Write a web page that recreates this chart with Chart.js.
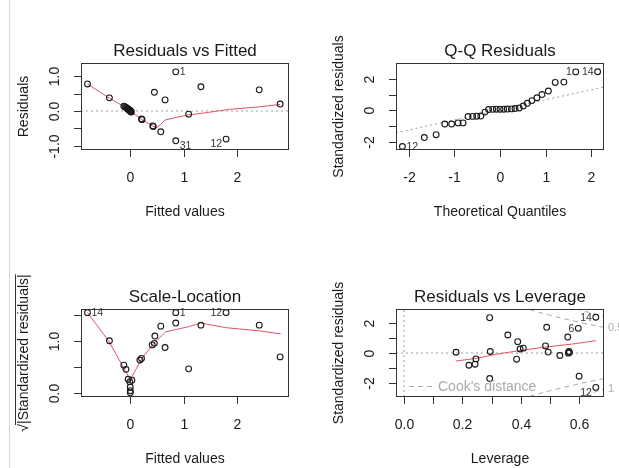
<!DOCTYPE html>
<html>
<head>
<meta charset="utf-8">
<script src="https://cdn.jsdelivr.net/npm/chart.js@4.4.0/dist/chart.umd.min.js"></script>
<style>
html, body { margin: 0; padding: 0; background: #fff; }
#wrap { position: relative; width: 619px; height: 468px; overflow: hidden; background: #fff; }
#wrap canvas { position: absolute; left: 0; top: 0; }
#edge { position: absolute; left: 9px; top: 0; width: 1px; height: 468px; background: #d6d6d6; }
</style>
</head>
<body>
<div id="wrap">
  <div id="edge"></div>
  <canvas id="rvf" width="619" height="468"></canvas>
  <canvas id="qq" width="619" height="468"></canvas>
  <canvas id="sl" width="619" height="468"></canvas>
  <canvas id="rvl" width="619" height="468"></canvas>
</div>
<script>
// Residuals vs Fitted
var rvfX = [-0.80,-0.39,-0.12,-0.10,-0.08,-0.06,-0.05,-0.04,-0.03,-0.02,-0.01,0.00,0.00,0.01,0.01,0.02,0.00,0.21,0.22,0.42,0.43,0.45,0.57,0.65,0.85,0.85,1.09,1.32,1.79,2.41,2.80];
var rvfY = [0.78,0.38,0.14,0.12,0.10,0.08,0.06,0.05,0.04,0.03,0.02,0.01,0.00,-0.01,-0.02,-0.03,-0.01,-0.23,-0.25,-0.43,-0.45,0.54,-0.60,0.32,1.13,-0.86,-0.09,0.70,-0.81,0.61,0.20];
var rvfSmoothX = [-0.80,-0.39,-0.12,0.00,0.21,0.42,0.49,0.57,0.65,0.87,1.09,1.32,1.86,2.41,2.80];
var rvfSmoothY = [0.78,0.37,0.13,0.00,-0.24,-0.43,-0.48,-0.38,-0.26,-0.18,-0.11,-0.07,0.05,0.12,0.19];
var rvfIds = [[24, '1'], [25, '31'], [28, '12']];

// Q-Q Residuals
var qqX = [-2.14,-1.66,-1.40,-1.21,-1.06,-0.92,-0.81,-0.70,-0.60,-0.51,-0.42,-0.33,-0.25,-0.16,-0.08,0.00,0.08,0.16,0.25,0.33,0.42,0.51,0.60,0.70,0.81,0.92,1.06,1.21,1.40,1.66,2.14];
var qqY = [-2.26,-1.70,-1.52,-0.85,-0.85,-0.78,-0.78,-0.38,-0.37,-0.36,-0.35,-0.10,0.06,0.07,0.08,0.08,0.08,0.09,0.10,0.12,0.16,0.28,0.45,0.62,0.80,1.00,1.22,1.76,1.78,2.42,2.43];
var qqLineX = [-2.28, 2.28];
var qqLineY = [-1.40, 1.48];
var qqIds = [[0, '12'], [29, '1'], [30, '14']];

// Scale-Location
var slX = [-0.80,-0.39,-0.12,-0.08,-0.04,0.03,0.00,0.00,0.00,-0.01,0.18,0.21,0.41,0.45,0.46,0.57,0.65,0.85,0.85,1.09,1.32,1.79,2.41,2.80];
var slY = [1.55,1.01,0.54,0.46,0.27,0.25,0.12,0.05,0.01,0.22,0.64,0.67,0.93,0.96,1.10,1.29,0.88,1.35,1.55,0.47,1.31,1.55,1.31,0.70];
var slSmoothX = [-0.80,-0.40,-0.13,0.00,0.21,0.44,0.66,0.87,1.09,1.31,1.80,2.41,2.81];
var slSmoothY = [1.55,1.00,0.50,0.26,0.66,0.96,1.18,1.23,1.28,1.35,1.26,1.20,1.14];
var slIds = [[0, '14'], [18, '1'], [21, '12']];

// Residuals vs Leverage
var rvlX = [0.178,0.222,0.243,0.246,0.293,0.295,0.293,0.355,0.389,0.385,0.397,0.408,0.488,0.484,0.493,0.533,0.562,0.566,0.564,0.560,0.596,0.656,0.599,0.656];
var rvlY = [0.05,-0.83,-0.76,-0.40,2.39,0.10,-1.73,1.22,0.77,-0.42,0.27,0.33,1.74,0.48,0.06,-0.17,-0.01,0.04,0.10,1.08,1.67,2.42,-1.57,-2.33];
var rvlSmoothX = [0.178,0.249,0.311,0.391,0.482,0.573,0.656];
var rvlSmoothY = [-0.54,-0.36,-0.10,0.15,0.40,0.60,0.83];
var rvlIds = [[20, '6'], [21, '14'], [23, '12']];
var cookHalfX = [0.40,0.45,0.50,0.55,0.60,0.65,0.70];
var cookHalfY = [3.12,2.82,2.55,2.31,2.08,1.87,1.67];
var cookOneX = [0.56,0.58,0.60,0.62,0.65,0.70];
var cookOneY = [3.21,3.07,2.94,2.82,2.65,2.36];
var cookTags = [[1.70, '0.5'], [-2.45, '1']];

// tick values and labels
var fitTicks = [0, 1, 2];
var fitLabels = ['0', '1', '2'];
var rvfYTicks = [-1, -0.5, 0, 0.5, 1];
var rvfYLabels = ['-1.0', '', '0.0', '', '1.0'];
var qqXTicks = [-2, -1, 0, 1, 2];
var qqXLabels = ['-2', '-1', '0', '1', '2'];
var stdTicks = [-2, -1, 0, 1, 2];
var stdLabels = ['-2', '', '0', '', '2'];
var slYTicks = [0, 0.5, 1, 1.5];
var slYLabels = ['0.0', '', '1.0', ''];
var levTicks = [0, 0.1, 0.2, 0.3, 0.4, 0.5, 0.6];
var levLabels = ['0.0', '', '0.2', '', '0.4', '', '0.6'];

var W = 619, H = 468;
var FONT = '"Liberation Sans", Arial, Helvetica, sans-serif';
var RED = '#DF536B';
var GREY = '#a0a0a0';
var COOK = '#aaaaaa';

function pts(xs, ys) {
    return xs.map(function (v, i) { return { x: v, y: ys[i] }; });
}

function points(xs, ys) {
    return {
        data: pts(xs, ys),
        showLine: false,
        pointStyle: 'circle',
        pointRadius: 2.9,
        pointBorderWidth: 1.1,
        borderWidth: 1.1,
        borderColor: '#1a1a1a',
        pointBorderColor: '#1a1a1a',
        backgroundColor: 'rgba(0,0,0,0)',
        pointBackgroundColor: 'rgba(0,0,0,0)',
        clip: false
    };
}

function path(xs, ys, color, dash) {
    return {
        data: pts(xs, ys),
        showLine: true,
        pointRadius: 0,
        borderColor: color,
        borderWidth: 1,
        borderDash: dash || [],
        tension: 0,
        fill: false
    };
}

function neg(arr) {
    return arr.map(function (v) { return -v; });
}

// draws the R style frame: box, ticks, labels, titles, point ids
function rFrame(cfg) {
    return {
        id: 'rFrame',
        afterDraw: function (chart) {
            var ctx = chart.ctx, a = chart.chartArea;
            var x = chart.scales.x, y = chart.scales.y;
            var L = Math.round(a.left), R = Math.round(a.right), T = Math.round(a.top), B = Math.round(a.bottom);
            ctx.save();
            ctx.setLineDash([]);
            ctx.strokeStyle = '#333';
            ctx.lineWidth = 1;
            ctx.strokeRect(L + 0.5, T + 0.5, R - L - 1, B - T - 1);

            ctx.fillStyle = '#1a1a1a';
            ctx.font = '14px ' + FONT;
            ctx.textAlign = 'center';
            ctx.textBaseline = 'alphabetic';
            cfg.xTicks.forEach(function (v, i) {
                var px = Math.round(x.getPixelForValue(v)) + 0.5;
                ctx.beginPath(); ctx.moveTo(px, B); ctx.lineTo(px, B + 7); ctx.stroke();
                if (cfg.xLabels[i]) ctx.fillText(cfg.xLabels[i], px, B + 32);
            });
            cfg.yTicks.forEach(function (v, i) {
                var py = Math.round(y.getPixelForValue(v)) + 0.5;
                ctx.beginPath(); ctx.moveTo(L - 7, py); ctx.lineTo(L, py); ctx.stroke();
                if (cfg.yLabels[i]) {
                    ctx.save();
                    ctx.translate(L - 22, py);
                    ctx.rotate(-Math.PI / 2);
                    ctx.fillText(cfg.yLabels[i], 0, 0);
                    ctx.restore();
                }
            });

            ctx.font = '17px ' + FONT;
            ctx.fillText(cfg.title, (L + R) / 2, T - 7);
            ctx.font = '14px ' + FONT;
            ctx.fillText(cfg.xTitle, (L + R) / 2, B + 66);

            ctx.save();
            ctx.translate(L - 53, (T + B) / 2);
            ctx.rotate(-Math.PI / 2);
            if (cfg.sqrtY) {
                var s = '|' + cfg.yTitle + '|';
                var w = ctx.measureText(s).width, rw = ctx.measureText('\u221A').width;
                var x0 = -(w + rw) / 2;
                ctx.textAlign = 'left';
                ctx.fillText('\u221A', x0, 0);
                ctx.fillText(s, x0 + rw, 0);
                ctx.beginPath();
                ctx.moveTo(x0 + rw - 1, -12.5);
                ctx.lineTo(x0 + rw + w, -12.5);
                ctx.stroke();
            } else {
                ctx.fillText(cfg.yTitle, 0, 0);
            }
            ctx.restore();

            // point ids, placed like plot.lm does
            var data = chart.data.datasets[0].data;
            var xs = data.map(function (p) { return p.x; });
            var mid = (Math.min.apply(null, xs) + Math.max.apply(null, xs)) / 2;
            ctx.font = '10.5px ' + FONT;
            ctx.fillStyle = '#333';
            ctx.textBaseline = 'middle';
            cfg.ids.forEach(function (id) {
                var p = data[id[0]];
                var px = x.getPixelForValue(p.x);
                var py = y.getPixelForValue(p.y) + 0.5;
                if (cfg.shiftNeg && p.y < 0) py += 5;
                if (p.x <= mid) { ctx.textAlign = 'left'; ctx.fillText(id[1], px + 4, py); }
                else { ctx.textAlign = 'right'; ctx.fillText(id[1], px - 4, py); }
            });

            if (cfg.cook) {
                ctx.strokeStyle = COOK;
                ctx.setLineDash([5, 4]);
                ctx.beginPath(); ctx.moveTo(L + 13, B - 10.5); ctx.lineTo(L + 37, B - 10.5); ctx.stroke();
                ctx.setLineDash([]);
                ctx.fillStyle = COOK;
                ctx.font = '14px ' + FONT;
                ctx.textAlign = 'left';
                ctx.fillText("Cook's distance", L + 42, B - 10);
                ctx.font = '11px ' + FONT;
                cookTags.forEach(function (t) {
                    ctx.fillText(t[1], R + 4, y.getPixelForValue(t[0]));
                });
            }
            ctx.restore();
        }
    };
}

function makeChart(id, cfg, datasets) {
    return new Chart(document.getElementById(id), {
        type: 'scatter',
        data: { datasets: datasets },
        options: {
            responsive: false,
            animation: false,
            devicePixelRatio: 1,
            events: [],
            layout: { padding: { left: cfg.area[0], top: cfg.area[1], right: W - cfg.area[2], bottom: H - cfg.area[3] } },
            plugins: { legend: { display: false }, tooltip: { enabled: false } },
            scales: {
                x: { type: 'linear', display: false, min: cfg.xRange[0], max: cfg.xRange[1] },
                y: { type: 'linear', display: false, min: cfg.yRange[0], max: cfg.yRange[1] }
            }
        },
        plugins: [rFrame(cfg)]
    });
}

var rvfCfg = {
    area: [81, 63, 289, 150], xRange: [-0.921, 2.966], yRange: [-1.125, 1.385],
    title: 'Residuals vs Fitted', xTitle: 'Fitted values', yTitle: 'Residuals',
    xTicks: fitTicks, xLabels: fitLabels, yTicks: rvfYTicks, yLabels: rvfYLabels,
    ids: rvfIds, shiftNeg: true
};
makeChart('rvf', rvfCfg, [
    points(rvfX, rvfY),
    path(rvfSmoothX, rvfSmoothY, RED),
    path(rvfCfg.xRange, [0, 0], GREY, [2, 3])
]);

var qqCfg = {
    area: [396, 63, 604, 150], xRange: [-2.28, 2.28], yRange: [-2.48, 2.98],
    title: 'Q-Q Residuals', xTitle: 'Theoretical Quantiles', yTitle: 'Standardized residuals',
    xTicks: qqXTicks, xLabels: qqXLabels, yTicks: stdTicks, yLabels: stdLabels,
    ids: qqIds, shiftNeg: false
};
makeChart('qq', qqCfg, [
    points(qqX, qqY),
    path(qqLineX, qqLineY, GREY, [2, 3])
]);

var slCfg = {
    area: [81, 309, 289, 397], xRange: [-0.921, 2.966], yRange: [-0.071, 1.62],
    title: 'Scale-Location', xTitle: 'Fitted values', yTitle: 'Standardized residuals', sqrtY: true,
    xTicks: fitTicks, xLabels: fitLabels, yTicks: slYTicks, yLabels: slYLabels,
    ids: slIds, shiftNeg: false
};
makeChart('sl', slCfg, [
    points(slX, slY),
    path(slSmoothX, slSmoothY, RED)
]);

var rvlCfg = {
    area: [396, 309, 604, 397], xRange: [-0.0274, 0.684], yRange: [-2.98, 2.98],
    title: 'Residuals vs Leverage', xTitle: 'Leverage', yTitle: 'Standardized residuals',
    xTicks: levTicks, xLabels: levLabels, yTicks: stdTicks, yLabels: stdLabels,
    ids: rvlIds, shiftNeg: true, cook: true
};
makeChart('rvl', rvlCfg, [
    points(rvlX, rvlY),
    path(rvlSmoothX, rvlSmoothY, RED),
    path(cookHalfX, cookHalfY, COOK, [5, 4]),
    path(cookHalfX, neg(cookHalfY), COOK, [5, 4]),
    path(cookOneX, cookOneY, COOK, [5, 4]),
    path(cookOneX, neg(cookOneY), COOK, [5, 4]),
    path(rvlCfg.xRange, [0, 0], GREY, [2, 3]),
    path([0, 0], rvlCfg.yRange, GREY, [2, 3])
]);
</script>
</body>
</html>
